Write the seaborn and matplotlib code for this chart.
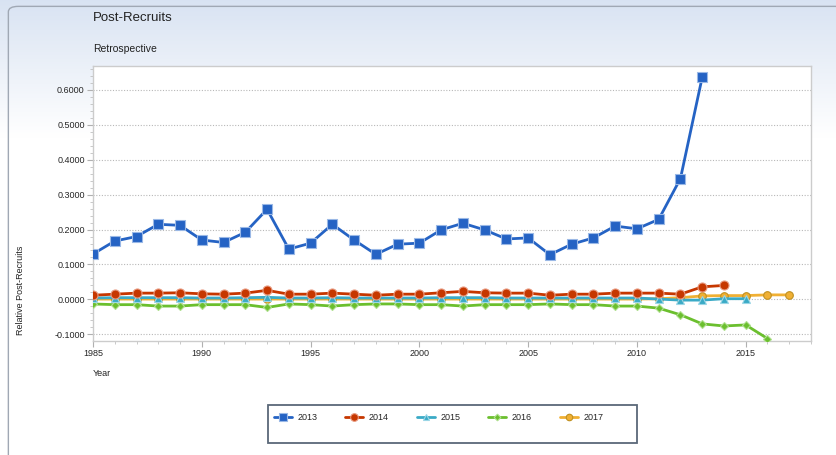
import numpy as np
import pandas as pd
import matplotlib.pyplot as plt
import seaborn as sns
from matplotlib.patches import FancyBboxPatch, Rectangle
from matplotlib.ticker import MultipleLocator, FormatStrFormatter

# values, one series per retrospective peel
years_2013 = list(range(1985, 2014))
vals_2013 = [0.130, 0.167, 0.180, 0.215, 0.212, 0.170, 0.163, 0.192, 0.258, 0.144,
             0.161, 0.215, 0.170, 0.129, 0.158, 0.161, 0.199, 0.218, 0.199, 0.173,
             0.176, 0.128, 0.158, 0.176, 0.210, 0.202, 0.229, 0.346, 0.636]

years_2014 = list(range(1985, 2015))
vals_2014 = [0.012, 0.015, 0.018, 0.018, 0.019, 0.016, 0.015, 0.018, 0.026, 0.015,
             0.015, 0.018, 0.015, 0.012, 0.015, 0.015, 0.019, 0.023, 0.019, 0.018,
             0.018, 0.012, 0.015, 0.015, 0.018, 0.018, 0.018, 0.015, 0.036, 0.040]

years_2015 = list(range(1985, 2016))
vals_2015 = [0.004, 0.005, 0.005, 0.005, 0.005, 0.004, 0.004, 0.005, 0.006, 0.004,
             0.004, 0.005, 0.004, 0.004, 0.004, 0.004, 0.005, 0.005, 0.005, 0.004,
             0.004, 0.004, 0.004, 0.004, 0.004, 0.004, 0.001, -0.002, -0.002, 0.002,
             0.002]

years_2016 = list(range(1985, 2017))
vals_2016 = [-0.013, -0.015, -0.015, -0.019, -0.019, -0.015, -0.015, -0.015, -0.023, -0.013,
             -0.015, -0.019, -0.015, -0.013, -0.013, -0.015, -0.015, -0.019, -0.015, -0.015,
             -0.015, -0.013, -0.015, -0.015, -0.019, -0.019, -0.025, -0.044, -0.070, -0.076,
             -0.073, -0.112]

years_2017 = list(range(1985, 2018))
vals_2017 = [0.001, 0.001, 0.001, 0.001, 0.001, 0.001, 0.001, 0.001, 0.001, 0.001,
             0.001, 0.001, 0.001, 0.001, 0.001, 0.001, 0.001, 0.001, 0.001, 0.001,
             0.001, 0.001, 0.001, 0.001, 0.001, 0.001, 0.002, 0.005, 0.010, 0.011,
             0.011, 0.013, 0.013]

# name, years, values, colour, marker, size, edge colour, z-order
series = [
    ('2013', years_2013, vals_2013, '#2563c4', 's', 7.0, '#9ab8e6', 6),
    ('2014', years_2014, vals_2014, '#c63700', 'o', 6.5, '#e89a80', 5),
    ('2015', years_2015, vals_2015, '#3aaac6', '^', 5.5, '#9ad6e6', 4),
    ('2016', years_2016, vals_2016, '#6bbf2e', 'D', 4.0, '#b0e090', 3),
    ('2017', years_2017, vals_2017, '#f0b034', 'o', 5.5, '#c09020', 2),
]

sns.set_style('white')
plt.rcParams['font.family'] = ['Liberation Sans', 'DejaVu Sans']

fig = plt.figure(figsize=(8.36, 4.55), dpi=100)

# gradient background panel
bg = fig.add_axes([0, 0, 1, 1], zorder=-2)
grad = np.linspace(0, 1, 256).reshape(-1, 1)
top = np.array([0.85, 0.89, 0.95])
bot = np.array([1.0, 1.0, 1.0])
w = np.clip(grad / 0.3, 0, 1)
img = top[None, None, :] * (1 - w[..., None]) + bot[None, None, :] * w[..., None]
bg.imshow(img, aspect='auto', extent=[0, 1, 0, 1], origin='upper')
bg.add_patch(FancyBboxPatch((0.010, -0.05), 1.2, 1.036, boxstyle='round,pad=0,rounding_size=0.012',
                            facecolor='none', edgecolor='#a0a8b4', lw=1.0, transform=bg.transAxes))
bg.add_patch(Rectangle((268 / 836, 1 - 443 / 455), (637 - 268) / 836, 38 / 455,
                       facecolor='white', edgecolor='#5a6878', lw=1.3, transform=bg.transAxes))
bg.set_xlim(0, 1)
bg.set_ylim(0, 1)
bg.axis('off')

ax = fig.add_axes([93 / 836, 1 - 341 / 455, (811 - 93) / 836, (341 - 66) / 455])
ax.set_facecolor('white')

for name, yrs, vals, col, mk, ms, edge, z in series:
    df = pd.DataFrame({'Year': yrs, 'Value': vals})
    sns.lineplot(data=df, x='Year', y='Value', ax=ax, color=col, marker=mk, markersize=ms,
                 markeredgecolor=edge, markeredgewidth=0.8, linewidth=2.0, label=name, zorder=z)

ax.set_xlim(1985, 2018)
ax.set_ylim(-0.119, 0.668)
ax.xaxis.set_major_locator(MultipleLocator(5))
ax.xaxis.set_minor_locator(MultipleLocator(1))
ax.yaxis.set_major_locator(MultipleLocator(0.1))
ax.yaxis.set_minor_locator(MultipleLocator(0.02))
ax.yaxis.set_major_formatter(FormatStrFormatter('%.4f'))
ax.tick_params(axis='both', which='major', labelsize=6.5, length=4, color='#b0b0b0',
               direction='out', bottom=True, left=True, pad=2)
ax.tick_params(axis='both', which='minor', length=2, color='#c0c0c0', direction='out',
               bottom=True, left=True)
ax.grid(axis='y', which='major', linestyle=(0, (1, 1.5)), color='#b8b8b8', linewidth=0.8)
for sp in ax.spines.values():
    sp.set_color('#cccccc')
    sp.set_linewidth(1.0)
ax.set_xlabel('')
ax.set_ylabel('')

fig.text(93 / 836, 1 - 18 / 455, 'Post-Recruits', fontsize=9.5, va='center', ha='left', color='#222222')
fig.text(93 / 836, 1 - 49 / 455, 'Retrospective', fontsize=7.5, va='center', ha='left', color='#222222')
fig.text(93 / 836, 1 - 374 / 455, 'Year', fontsize=6.5, va='center', ha='left', color='#222222')
fig.text(21 / 836, 1 - 290 / 455, 'Relative Post-Recruits', fontsize=6.5, rotation=90,
         va='center', ha='center', color='#222222')

handles, labels = ax.get_legend_handles_labels()
ax.legend_.remove()
leg = fig.legend(handles, labels, loc='upper left', bbox_to_anchor=(272 / 836, 1 - 411 / 455),
                 borderaxespad=0, borderpad=0.2, ncol=5, fontsize=6.5, frameon=False,
                 handlelength=2.0, columnspacing=3.1, handletextpad=0.6, markerscale=0.85)

fig.savefig('out.png', dpi=100)
